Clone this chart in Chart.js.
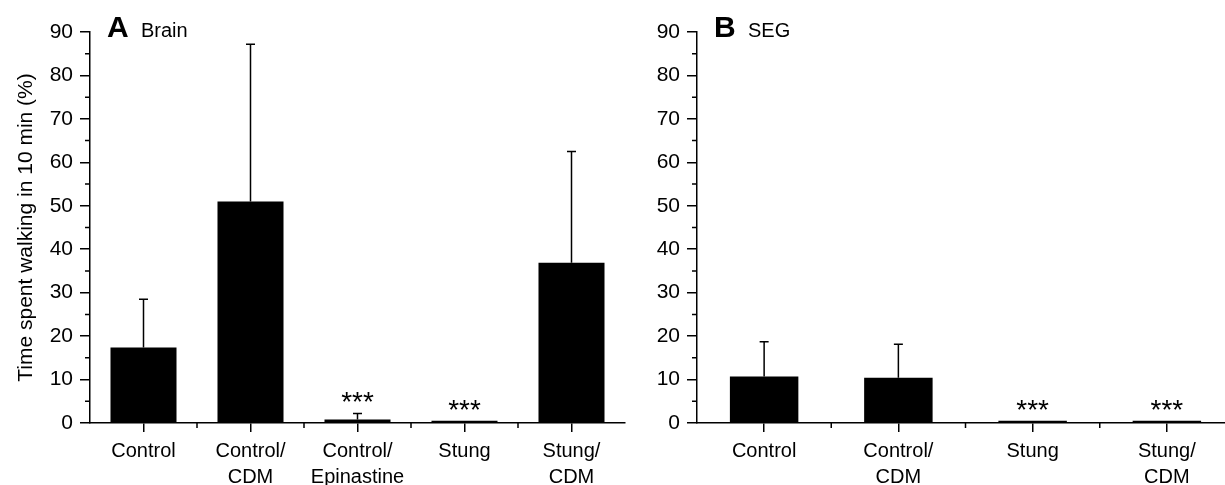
<!DOCTYPE html>
<html>
<head>
<meta charset="utf-8">
<script src="https://cdn.jsdelivr.net/npm/chart.js@4.4.0/dist/chart.umd.min.js"></script>
<style>
  html, body { margin: 0; padding: 0; background: #fff; overflow: hidden; width: 1225px; height: 485px; }
  #brainChart { position: absolute; left: 0; top: 0; }
  #segChart { position: absolute; left: 630px; top: 0; }
</style>
</head>
<body>
<canvas id="brainChart" width="630" height="485"></canvas>
<canvas id="segChart" width="604" height="485"></canvas>
<script>
// Panel A - Brain
const brainLabels = ['Control', ['Control/', 'CDM'], ['Control/', 'Epinastine'], 'Stung', ['Stung/', 'CDM']];
const brainMeans = [17.4, 51.0, 0.8, 0.5, 36.9];
const brainErrTop = [28.5, 87.2, 2.2, null, 62.5];
const brainStars = ['', '', '***', '***', ''];

// Panel B - SEG
const segLabels = ['Control', ['Control/', 'CDM'], 'Stung', ['Stung/', 'CDM']];
const segMeans = [10.7, 10.4, 0.5, 0.5];
const segErrTop = [18.7, 18.1, null, null];
const segStars = ['', '', '***', '***'];

// y axis range (%)
const yMin = 0, yMax = 90, yStep = 10;
const yTitle = 'Time spent walking in 10 min (%)';

const FONT = '"Liberation Sans", Arial, Helvetica, sans-serif';
Chart.defaults.font.family = FONT;
Chart.defaults.color = '#000';

// error bars, stars, minor ticks, panel letter
const extras = {
  id: 'extras',
  afterDatasetsDraw(chart, args, opts) {
    const ctx = chart.ctx;
    const y = chart.scales.y, x = chart.scales.x;
    const bars = chart.getDatasetMeta(0).data;
    ctx.save();
    ctx.strokeStyle = '#000';
    ctx.lineWidth = 1.5;
    ctx.beginPath();
    opts.errTop.forEach((e, i) => {
      if (e == null) return;
      const b = bars[i];
      const yt = y.getPixelForValue(e);
      ctx.moveTo(b.x, b.y);
      ctx.lineTo(b.x, yt);
      ctx.moveTo(b.x - 4.5, yt);
      ctx.lineTo(b.x + 4.5, yt);
    });
    // minor ticks on y
    for (let v = yMin + yStep / 2; v < yMax; v += yStep) {
      const py = y.getPixelForValue(v);
      ctx.moveTo(y.right - 5, py);
      ctx.lineTo(y.right, py);
    }
    // short ticks between categories
    for (let i = 1; i < x.ticks.length; i++) {
      const px = (x.getPixelForTick(i - 1) + x.getPixelForTick(i)) / 2;
      ctx.moveTo(px, x.top);
      ctx.lineTo(px, x.top + 5);
    }
    ctx.stroke();

    ctx.fillStyle = '#000';
    ctx.textAlign = 'center';
    ctx.textBaseline = 'alphabetic';
    ctx.font = '28px ' + FONT;
    opts.stars.forEach((s, i) => {
      if (!s) return;
      const b = bars[i];
      let top = b.y;
      if (opts.errTop[i] != null) top = Math.min(top, y.getPixelForValue(opts.errTop[i]));
      ctx.fillText(s, b.x, top - 2);
    });

    const area = chart.chartArea;
    ctx.textAlign = 'left';
    ctx.font = 'bold 30px ' + FONT;
    ctx.fillText(opts.letter, area.left + 17, area.top + 5);
    ctx.font = '20px ' + FONT;
    ctx.fillText(opts.name, area.left + 51, area.top + 5);
    ctx.restore();
  }
};

function makeChart(id, labels, means, errTop, stars, letter, name, yWidth, barPct, showTitle, padRight) {
  return new Chart(document.getElementById(id), {
    type: 'bar',
    data: {
      labels: labels,
      datasets: [{
        data: means,
        backgroundColor: '#000',
        borderWidth: 0,
        categoryPercentage: 1,
        barPercentage: barPct
      }]
    },
    options: {
      responsive: false,
      animation: false,
      layout: { padding: { top: 32, right: padRight, left: 0, bottom: 0 } },
      plugins: {
        legend: { display: false },
        tooltip: { enabled: false },
        extras: { errTop, stars, letter, name }
      },
      scales: {
        x: {
          grid: { display: true, offset: false, drawOnChartArea: false, tickLength: 9, color: '#000', lineWidth: 1.5 },
          border: { display: true, color: '#000', width: 1.5 },
          ticks: { font: { size: 20, lineHeight: 1.3 }, padding: 6, maxRotation: 0, autoSkip: false, color: '#000' },
          afterFit(s) { s.height = 62; }
        },
        y: {
          min: yMin, max: yMax,
          grid: { drawOnChartArea: false, tickLength: 10, color: '#000', lineWidth: 1.5 },
          border: { display: true, color: '#000', width: 1.5 },
          ticks: { stepSize: yStep, font: { size: 21 }, padding: 7, color: '#000' },
          title: { display: showTitle, text: yTitle, font: { size: 21 }, padding: { top: 14, bottom: 0 }, color: '#000' },
          afterFit(s) { s.width = yWidth; }
        }
      }
    },
    plugins: [extras]
  });
}

makeChart('brainChart', brainLabels, brainMeans, brainErrTop, brainStars, 'A', 'Brain', 90, 0.617, true, 5);
makeChart('segChart', segLabels, segMeans, segErrTop, segStars, 'B', 'SEG', 67, 0.51, false, 0);
</script>
</body>
</html>
